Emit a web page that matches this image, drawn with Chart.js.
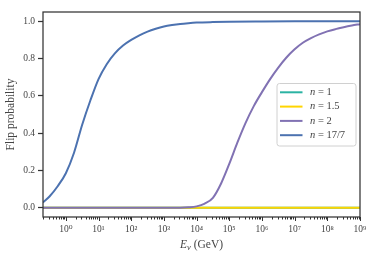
<!DOCTYPE html>
<html>
<head>
<meta charset="utf-8">
<script src="https://cdn.jsdelivr.net/npm/chart.js@4.4.1/dist/chart.umd.min.js"></script>
<style>
  html, body { margin: 0; padding: 0; background: #fff; }
</style>
</head>
<body>
<canvas id="flipChart" width="374" height="258"></canvas>
<script>
// legend labels (value of n) and line colours
const seriesLabels = ["1", "1.5", "2", "17/7"];
const seriesColors = ["#2bb3a3", "#ffd500", "#8172b3", "#4c72b0"];

// energies (GeV) and flip probabilities
const energyFlat = [0.2, 1e9];
const probN1 = [0, 0];
const probN15 = [0, 0];

const energyN2 = [0.2, 1e3, 3160, 5620, 1e4, 1.78e4, 3.16e4, 5.62e4, 1e5, 1.78e5, 3.16e5, 5.62e5,
  1e6, 1.78e6, 3.16e6, 5.62e6, 1e7, 1.78e7, 3.16e7, 5.62e7, 1e8, 1.78e8, 3.16e8, 5.62e8, 1e9];
const probN2 = [0, 0, 0, 0.002, 0.007, 0.022, 0.053, 0.13, 0.235, 0.35, 0.455, 0.545,
  0.62, 0.69, 0.752, 0.806, 0.85, 0.885, 0.91, 0.93, 0.946, 0.958, 0.968, 0.977, 0.985];

const energyN177 = [0.2, 0.316, 0.562, 1, 1.78, 3.16, 5.62, 10, 17.8, 31.6, 56.2, 100, 178, 316, 562,
  1e3, 1780, 3160, 5620, 1e4, 3.16e4, 1e5, 1e6, 1e7, 1e9];
const probN177 = [0.028, 0.06, 0.115, 0.185, 0.295, 0.445, 0.575, 0.69, 0.77, 0.828, 0.87, 0.90, 0.925, 0.945, 0.96,
  0.972, 0.98, 0.986, 0.99, 0.993, 0.996, 0.998, 0.9993, 0.9998, 1.0];

// axis ticks
const yTicks = [0, 0.2, 0.4, 0.6, 0.8, 1.0];
const xDecades = [-1, 0, 1, 2, 3, 4, 5, 6, 7, 8, 9];
const xMin = 0.2, xMax = 1e9;

const frameColor = "#333";
const textColor = "#444";
const serif = "'Liberation Serif', 'DejaVu Serif', serif";
const sup = "⁰¹²³⁴⁵⁶⁷⁸⁹";

const toPoints = (xs, ys) => xs.map((x, i) => ({ x, y: ys[i] }));
const seriesData = [
  toPoints(energyFlat, probN1),
  toPoints(energyFlat, probN15),
  toPoints(energyN2, probN2),
  toPoints(energyN177, probN177)
];

// frame, minor/major x ticks, legend and x title
const extras = {
  id: "extras",
  afterDraw(chart) {
    const { ctx, chartArea: a, scales: { x } } = chart;
    ctx.save();
    ctx.strokeStyle = frameColor;
    ctx.lineWidth = 1;
    x.ticks.forEach(t => {
      const px = Math.round(x.getPixelForValue(t.value)) + 0.5;
      ctx.beginPath();
      ctx.moveTo(px, a.bottom);
      ctx.lineTo(px, a.bottom + (t.major ? 4 : 2.5));
      ctx.stroke();
    });
    ctx.lineWidth = 1.25;
    ctx.strokeRect(a.left, a.top, a.right - a.left, a.bottom - a.top);

    // legend
    const lx = 277, ly = 83.5, lw = 79, lh = 62.5;
    ctx.fillStyle = "rgba(255,255,255,0.85)";
    ctx.strokeStyle = "#d0d0d0";
    ctx.lineWidth = 1;
    ctx.beginPath();
    ctx.roundRect(lx, ly, lw, lh, 2.5);
    ctx.fill();
    ctx.stroke();
    ctx.textBaseline = "middle";
    seriesLabels.forEach((lab, i) => {
      const yy = 92.3 + i * 14.3;
      ctx.strokeStyle = seriesColors[i];
      ctx.lineWidth = 2;
      ctx.beginPath();
      ctx.moveTo(280, yy);
      ctx.lineTo(302.5, yy);
      ctx.stroke();
      ctx.fillStyle = textColor;
      ctx.font = "italic 10.5px " + serif;
      ctx.fillText("n", 310, yy);
      const nw = ctx.measureText("n").width;
      ctx.font = "10.5px " + serif;
      ctx.fillText(" = " + lab, 310 + nw, yy);
    });

    // x axis title: E_nu (GeV)
    const cx = (a.left + a.right) / 2, by = 247.5;
    ctx.textBaseline = "alphabetic";
    ctx.font = "italic 11.5px " + serif;
    const wE = ctx.measureText("E").width;
    ctx.font = "italic 8.5px " + serif;
    const wNu = ctx.measureText("ν").width;
    ctx.font = "11.5px " + serif;
    const wRest = ctx.measureText(" (GeV)").width;
    let sx = cx - (wE + wNu + wRest) / 2;
    ctx.fillStyle = textColor;
    ctx.font = "italic 11.5px " + serif;
    ctx.fillText("E", sx, by);
    sx += wE;
    ctx.font = "italic 8.5px " + serif;
    ctx.fillText("ν", sx, by + 2.5);
    sx += wNu;
    ctx.font = "11.5px " + serif;
    ctx.fillText(" (GeV)", sx, by);
    ctx.restore();
  }
};

new Chart(document.getElementById("flipChart").getContext("2d"), {
  type: "line",
  data: {
    datasets: seriesData.map((d, i) => ({
      label: "n = " + seriesLabels[i],
      data: d,
      borderColor: seriesColors[i],
      backgroundColor: seriesColors[i],
      borderWidth: 2,
      pointRadius: 0,
      cubicInterpolationMode: "monotone",
      fill: false,
      order: 4 - i
    }))
  },
  options: {
    responsive: false,
    devicePixelRatio: 1,
    animation: false,
    layout: { padding: { left: 0, top: 12, right: 14, bottom: 0 } },
    plugins: { legend: { display: false }, tooltip: { enabled: false } },
    scales: {
      x: {
        type: "logarithmic",
        min: xMin,
        max: xMax,
        afterBuildTicks: s => {
          const t = [];
          xDecades.forEach(k => {
            for (let m = 1; m <= 9; m++) {
              const v = m * Math.pow(10, k);
              if (v >= xMin && v <= xMax) t.push({ value: v, major: m === 1 });
            }
          });
          s.ticks = t;
        },
        afterFit: s => { s.height = 41; },
        border: { display: false },
        grid: { display: true, drawOnChartArea: false, drawTicks: true, tickLength: 4, tickColor: "rgba(0,0,0,0)" },
        ticks: {
          autoSkip: false,
          maxRotation: 0,
          padding: 3,
          color: textColor,
          font: { family: serif, size: 9.5 },
          callback: (v, i, ticks) => {
            if (!ticks[i].major) return "";
            const k = Math.round(Math.log10(v));
            return "10" + String(k).split("").map(c => sup[+c]).join("");
          }
        }
      },
      y: {
        min: -0.05,
        max: 1.05,
        afterBuildTicks: s => { s.ticks = yTicks.map(v => ({ value: v })); },
        afterFit: s => { s.width = 43; },
        border: { display: false },
        grid: { display: true, drawOnChartArea: false, drawTicks: true, tickLength: 5, tickColor: frameColor, tickWidth: 1.25 },
        ticks: {
          padding: 3,
          color: textColor,
          font: { family: serif, size: 9.5 },
          callback: v => v.toFixed(1)
        },
        title: {
          display: true,
          text: "Flip probability",
          color: textColor,
          font: { family: serif, size: 11.5 },
          padding: { top: 4, bottom: 0 }
        }
      }
    }
  },
  plugins: [extras]
});
</script>
</body>
</html>
